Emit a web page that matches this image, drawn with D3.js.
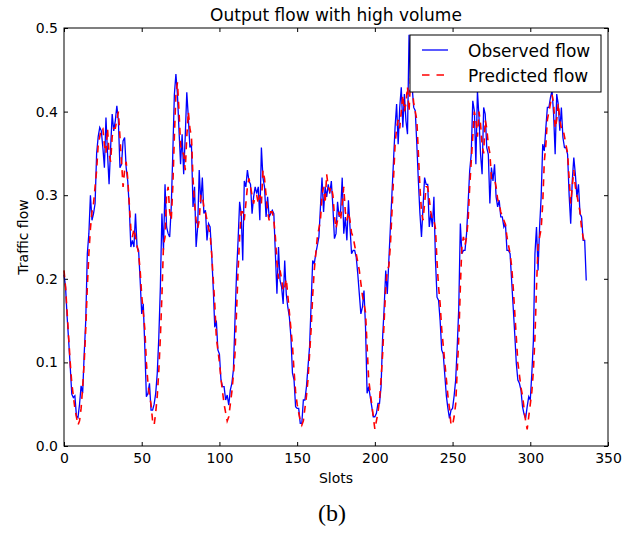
<!DOCTYPE html>
<html lang="en">
  <head>
    <meta charset="utf-8" />
    <title>Output flow with high volume</title>
    <style>
     body {
       margin: 0;
       background: white;
     }
     svg text {
       font-family: "DejaVu Sans", sans-serif;
       fill: black;
     }
     .axis text {
       font-size: 14px;
     }
     .axis line {
       stroke: black;
     }
    </style>
  </head>
  <body>
    <div id="chart"></div>

    <script src="https://d3js.org/d3.v7.min.js"></script>
    <script>

     // observed flow, one value per slot (0..336)
     var observed = [
       .205,.19,.155,.126,.095,.062,.058,.06,.036,.034,
       .05,.072,.063,.11,.15,.23,.254,.3,.27,.278,
       .29,.35,.37,.381,.377,.357,.333,.393,.35,.313,
       .357,.397,.377,.389,.407,.389,.333,.337,.365,.369,
       .333,.317,.286,.238,.246,.238,.278,.238,.234,.198,
       .158,.17,.118,.059,.063,.075,.043,.043,.05,.063,
       .087,.13,.19,.278,.234,.313,.262,.254,.25,.286,
       .35,.42,.445,.42,.377,.337,.373,.325,.37,.423,
       .393,.357,.361,.286,.31,.238,.262,.33,.29,.321,
       .278,.282,.246,.266,.262,.23,.19,.142,.15,.115,
       .11,.079,.071,.071,.055,.061,.049,.067,.075,.091,
       .15,.206,.246,.292,.278,.222,.317,.31,.33,.317,
       .313,.278,.298,.31,.302,.31,.27,.357,.321,.31,
       .274,.298,.274,.278,.282,.278,.23,.182,.238,.198,
       .19,.17,.222,.182,.166,.154,.13,.087,.079,.047,
       .045,.045,.027,.027,.055,.055,.071,.095,.119,.17,
       .222,.218,.23,.24,.25,.286,.321,.28,.31,.298,
       .313,.302,.317,.286,.248,.254,.292,.274,.282,.321,
       .254,.274,.246,.294,.262,.23,.234,.234,.226,.206,
       .182,.158,.166,.186,.142,.063,.071,.059,.047,.035,
       .035,.039,.051,.051,.071,.13,.166,.21,.182,.222,
       .262,.302,.341,.381,.409,.361,.405,.429,.381,.421,
       .389,.373,.492,.437,.429,.405,.401,.361,.317,.278,
       .25,.286,.321,.313,.313,.262,.278,.262,.298,.222,
       .178,.174,.15,.115,.11,.085,.06,.045,.033,.043,
       .045,.06,.079,.119,.166,.266,.23,.234,.234,.254,
       .29,.329,.349,.413,.401,.337,.425,.393,.349,.325,
       .405,.397,.357,.349,.29,.333,.317,.337,.298,.286,
       .294,.274,.274,.262,.266,.234,.234,.23,.198,.166,
       .134,.099,.079,.075,.067,.047,.038,.033,.047,.059,
       .055,.087,.126,.23,.262,.21,.262,.298,.361,.353,
       .38,.405,.405,.417,.425,.397,.349,.421,.409,.377,
       .405,.369,.357,.357,.349,.3,.266,.317,.345,.325,
       .298,.313,.278,.274,.246,.246,.198
     ];

     // predicted flow, one value per slot (0..335)
     var predicted = [
       .21,.19,.16,.13,.1,.075,.06,.045,.035,.025,
       .03,.045,.07,.1,.14,.19,.23,.26,.28,.29,
       .31,.33,.36,.37,.38,.38,.36,.35,.38,.35,
       .34,.37,.38,.38,.39,.4,.37,.34,.31,.33,
       .34,.32,.29,.26,.25,.26,.25,.24,.23,.21,
       .18,.16,.14,.1,.075,.06,.05,.03,.025,.04,
       .06,.09,.13,.18,.24,.25,.3,.31,.28,.27,
       .31,.37,.42,.435,.4,.36,.35,.35,.33,.37,
       .4,.38,.37,.32,.29,.27,.26,.27,.3,.3,
       .285,.28,.27,.26,.254,.23,.2,.17,.13,.115,
       .1,.08,.065,.05,.04,.03,.035,.05,.065,.085,
       .11,.16,.21,.25,.28,.28,.27,.29,.31,.32,
       .31,.3,.29,.3,.3,.29,.3,.29,.33,.32,
       .3,.28,.27,.28,.28,.27,.25,.22,.2,.21,
       .2,.185,.19,.2,.18,.16,.14,.12,.09,.065,
       .05,.04,.03,.025,.03,.045,.06,.08,.11,.14,
       .18,.21,.23,.25,.26,.27,.3,.31,.29,.325,
       .31,.305,.31,.3,.275,.26,.27,.28,.27,.29,
       .31,.28,.27,.28,.27,.255,.25,.24,.23,.22,
       .21,.195,.18,.17,.16,.12,.08,.065,.05,.035,
       .02,.03,.04,.055,.08,.11,.15,.19,.21,.215,
       .24,.28,.32,.36,.38,.39,.38,.4,.42,.4,
       .41,.43,.4,.44,.43,.41,.4,.39,.35,.31,
       .28,.27,.29,.31,.31,.295,.28,.27,.27,.26,
       .22,.19,.17,.14,.12,.1,.08,.06,.045,.025,
       .025,.035,.05,.09,.13,.19,.24,.25,.24,.25,
       .27,.31,.34,.37,.4,.39,.37,.4,.385,.36,
       .35,.39,.38,.36,.35,.32,.32,.32,.31,.295,
       .29,.28,.275,.27,.265,.25,.24,.23,.215,.19,
       .16,.13,.1,.085,.07,.06,.045,.03,.02,.035,
       .05,.065,.09,.13,.19,.24,.25,.26,.29,.34,
       .36,.39,.4,.41,.42,.41,.38,.39,.41,.39,
       .38,.38,.37,.36,.35,.32,.29,.31,.33,.31,
       .3,.29,.28,.26,.25,.242
     ];

     var xTicks = [0, 50, 100, 150, 200, 250, 300, 350];
     var yTicks = [0, 0.1, 0.2, 0.3, 0.4, 0.5];
     var seriesNames = ["Observed flow", "Predicted flow"];

     var plotLeft = 64, plotRight = 608, plotTop = 28, plotBottom = 446;

     var svg = d3.select("#chart")
                 .append("svg")
                 .attr("width", 633)
                 .attr("height", 547);

     var x = d3.scaleLinear().domain([0, 350]).range([plotLeft, plotRight]);
     var y = d3.scaleLinear().domain([0, 0.5]).range([plotBottom, plotTop]);

     // axes, ticks pointing inward on all four sides
     svg.append("g")
        .attr("class", "axis")
        .attr("transform", "translate(0," + plotBottom + ")")
        .call(d3.axisBottom(x).tickValues(xTicks).tickSizeInner(-4).tickSizeOuter(0)
                .tickPadding(7).tickFormat(d3.format("d")))
        .call(function(g) { g.select(".domain").remove(); });

     svg.append("g")
        .attr("class", "axis")
        .attr("transform", "translate(0," + plotTop + ")")
        .call(d3.axisTop(x).tickValues(xTicks).tickSizeInner(-4).tickSizeOuter(0).tickFormat(""))
        .call(function(g) { g.select(".domain").remove(); });

     svg.append("g")
        .attr("class", "axis")
        .attr("transform", "translate(" + plotLeft + ",0)")
        .call(d3.axisLeft(y).tickValues(yTicks).tickSizeInner(-4).tickSizeOuter(0)
                .tickPadding(6).tickFormat(d3.format(".1f")))
        .call(function(g) { g.select(".domain").remove(); });

     svg.append("g")
        .attr("class", "axis")
        .attr("transform", "translate(" + plotRight + ",0)")
        .call(d3.axisRight(y).tickValues(yTicks).tickSizeInner(-4).tickSizeOuter(0).tickFormat(""))
        .call(function(g) { g.select(".domain").remove(); });

     var line = d3.line()
                  .x(function(d, i) { return x(i); })
                  .y(function(d) { return y(d); });

     svg.append("path")
        .datum(observed)
        .attr("d", line)
        .attr("fill", "none")
        .attr("stroke", "#0000ff")
        .attr("stroke-width", 1.3);

     svg.append("path")
        .datum(predicted)
        .attr("d", line)
        .attr("fill", "none")
        .attr("stroke", "#ff0000")
        .attr("stroke-width", 1.6)
        .attr("stroke-dasharray", "7,6");

     // frame
     svg.append("rect")
        .attr("x", plotLeft)
        .attr("y", plotTop)
        .attr("width", plotRight - plotLeft)
        .attr("height", plotBottom - plotTop)
        .attr("fill", "none")
        .attr("stroke", "black")
        .attr("stroke-width", 1);

     // legend
     var legend = svg.append("g").attr("transform", "translate(410,35)");

     legend.append("rect")
        .attr("width", 191)
        .attr("height", 57)
        .attr("fill", "white")
        .attr("stroke", "black")
        .attr("stroke-width", 1);

     legend.append("line")
        .attr("x1", 12).attr("x2", 38)
        .attr("y1", 15).attr("y2", 15)
        .attr("stroke", "#0000ff")
        .attr("stroke-width", 1.3);

     legend.append("line")
        .attr("x1", 12).attr("x2", 38)
        .attr("y1", 40).attr("y2", 40)
        .attr("stroke", "#ff0000")
        .attr("stroke-width", 1.6)
        .attr("stroke-dasharray", "7.5,7");

     legend.selectAll(".label")
        .data(seriesNames)
        .enter()
        .append("text")
        .attr("class", "label")
        .attr("x", 58)
        .attr("y", function(d, i) { return 22 + i * 25; })
        .attr("font-size", 17)
        .text(function(d) { return d; });

     // titles
     svg.append("text")
        .attr("x", 336)
        .attr("y", 21)
        .attr("text-anchor", "middle")
        .attr("font-size", 17)
        .text("Output flow with high volume");

     svg.append("text")
        .attr("x", 336)
        .attr("y", 483)
        .attr("text-anchor", "middle")
        .attr("font-size", 14)
        .text("Slots");

     svg.append("text")
        .attr("transform", "translate(28,237) rotate(-90)")
        .attr("text-anchor", "middle")
        .attr("font-size", 14)
        .text("Traffic flow");

     svg.append("text")
        .attr("x", 332)
        .attr("y", 521)
        .attr("text-anchor", "middle")
        .attr("font-size", 24)
        .style("font-family", "'Liberation Serif', serif")
        .text("(b)");

    </script>
  </body>
</html>
